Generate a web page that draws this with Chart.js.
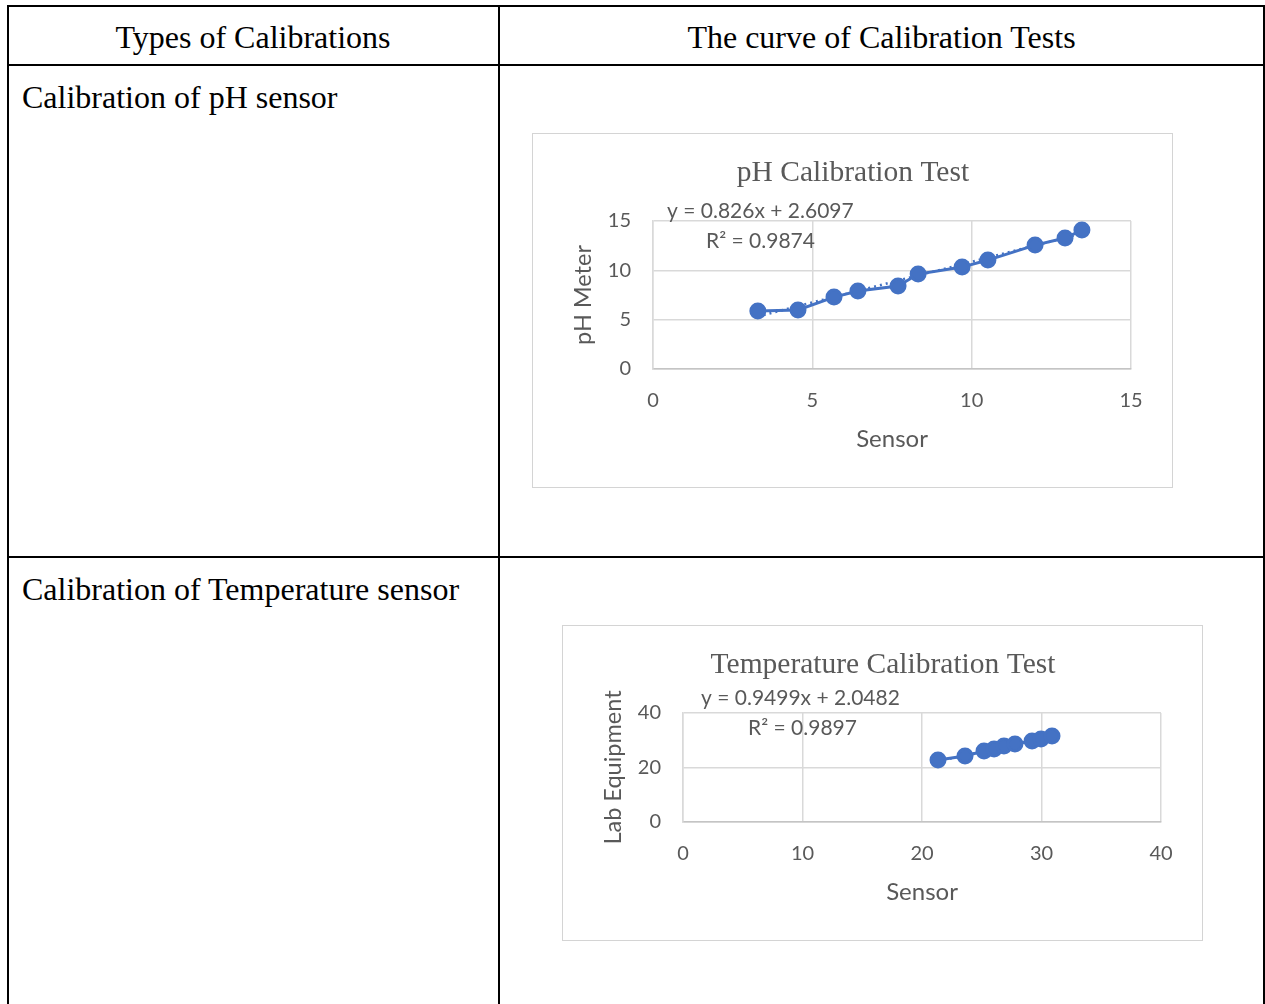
<!DOCTYPE html>
<html>
<head>
<meta charset="utf-8">
<script src="https://cdn.jsdelivr.net/npm/chart.js@4.4.1/dist/chart.umd.min.js"></script>
<style>
  html, body { margin: 0; padding: 0; background: #ffffff; }
  body { width: 1265px; height: 1004px; position: relative; overflow: hidden; }
  .hl, .vl { position: absolute; background: #000; }
  .cell { position: absolute; font-family: "Liberation Serif", "Times New Roman", serif; font-size: 32px; color: #000; white-space: nowrap; line-height: 1; }
  .box { position: absolute; border: 1.5px solid #d4d4d4; box-sizing: border-box; background: #fff; }
  .box canvas { position: absolute; left: 0; top: 0; }
</style>
</head>
<body>
<!-- table lines -->
<div class="hl" style="left:7px; top:5px; width:1258px; height:1.5px;"></div>
<div class="hl" style="left:7px; top:64px; width:1258px; height:1.5px;"></div>
<div class="hl" style="left:7px; top:556px; width:1258px; height:1.5px;"></div>
<div class="vl" style="left:7px; top:5px; width:1.5px; height:1000px;"></div>
<div class="vl" style="left:498px; top:5px; width:1.5px; height:1000px;"></div>
<div class="vl" style="left:1263px; top:5px; width:1.5px; height:1000px;"></div>

<div class="cell" style="left:7px; width:492px; top:21px; text-align:center;">Types of Calibrations</div>
<div class="cell" style="left:499px; width:765px; top:21px; text-align:center;">The curve of Calibration Tests</div>
<div class="cell" style="left:22px; top:81px;">Calibration of pH sensor</div>
<div class="cell" style="left:22px; top:573px;">Calibration of Temperature sensor</div>

<div class="box" style="left:532px; top:133px; width:641px; height:355px;"><canvas id="c1" width="640" height="354"></canvas></div>
<div class="box" style="left:562px; top:625px; width:641px; height:316px;"><canvas id="c2" width="640" height="315"></canvas></div>

<script>
// ---- data ----
const phSensor = [3.29, 4.55, 5.68, 6.43, 7.69, 8.32, 9.70, 10.51, 11.99, 12.93, 13.46];
const phMeter  = [5.88, 5.98, 7.29, 7.90, 8.41, 9.62, 10.33, 11.04, 12.56, 13.27, 14.08];
const phTrend  = [0.826, 2.6097];      // slope, intercept
const phLabels = ["y = 0.826x + 2.6097", "R\u00B2 = 0.9874"];
const phXTicks = [0, 5, 10, 15];
const phYTicks = [0, 5, 10, 15];

const tSensor = [21.34, 23.60, 25.19, 26.03, 26.86, 27.78, 29.21, 29.96, 30.88];
const tLab    = [22.75, 24.20, 26.05, 26.80, 27.90, 28.60, 29.70, 30.50, 31.60];
const tTrend  = [0.9499, 2.0482];
const tLabels = ["y = 0.9499x + 2.0482", "R\u00B2 = 0.9897"];
const tXTicks = [0, 10, 20, 30, 40];
const tYTicks = [0, 20, 40];

// ---- styling ----
const BLUE = '#4472C4';
const GRID = '#d9d9d9';
const TXT = '#595959';
const SANS = 'Lato, "Open Sans", sans-serif';

function makeChart(id, xs, ys, trend, labels, xTicks, yTicks, title, xTitle, yTitle, eqPos) {
  const pts = xs.map((x, i) => ({ x: x, y: ys[i] }));
  const xmin = Math.min(...xs), xmax = Math.max(...xs);
  const trendPts = [xmin, xmax].map(x => ({ x: x, y: trend[0] * x + trend[1] }));
  const overlay = {
    id: 'overlay',
    afterDraw(chart) {
      const ctx = chart.ctx;
      ctx.save();
      ctx.fillStyle = TXT;
      ctx.textBaseline = 'middle';
      ctx.textAlign = 'center';
      ctx.font = '29.5px "Liberation Serif", "Times New Roman", serif';
      ctx.fillText(title, chart.width / 2, 39);
      ctx.textAlign = 'left';
      ctx.font = '21px ' + SANS;
      ctx.fillText(labels[0], eqPos[0], eqPos[1]);
      ctx.fillText(labels[1], eqPos[2], eqPos[3]);
      ctx.restore();
    }
  };
  return new Chart(document.getElementById(id), {
    type: 'scatter',
    data: {
      datasets: [
        { data: trendPts, showLine: true, borderColor: BLUE, borderWidth: 2.5, borderDash: [2, 4], pointRadius: 0, order: 2 },
        { data: pts, showLine: true, borderColor: BLUE, backgroundColor: BLUE, borderWidth: 3, pointRadius: 7, pointHoverRadius: 7, order: 1 }
      ]
    },
    options: {
      responsive: false,
      animation: false,
      events: [],
      layout: { padding: { left: 36, right: 42, top: 87, bottom: 34 } },
      plugins: { legend: { display: false }, tooltip: { enabled: false }, title: { display: false } },
      scales: {
        x: {
          type: 'linear', min: xTicks[0], max: xTicks[xTicks.length - 1],
          afterBuildTicks: s => { s.ticks = xTicks.map(v => ({ value: v })); },
          afterFit: s => { s.height = 85; },
          ticks: { padding: 20, color: TXT, font: { family: SANS, size: 20 } },
          grid: { color: GRID, lineWidth: 1.5, drawTicks: false },
          border: { color: '#c4c4c4', width: 1.5 },
          title: { display: true, text: xTitle, color: TXT, font: { family: SANS, size: 24 }, padding: 0 }
        },
        y: {
          type: 'linear', min: yTicks[0], max: yTicks[yTicks.length - 1],
          afterBuildTicks: s => { s.ticks = yTicks.map(v => ({ value: v })); },
          afterFit: s => { s.width = 84; },
          ticks: { padding: 22, color: TXT, font: { family: SANS, size: 20 } },
          grid: { color: GRID, lineWidth: 1.5, drawTicks: false },
          border: { color: GRID, width: 1.5 },
          title: { display: true, text: yTitle, color: TXT, font: { family: SANS, size: 23.5 }, padding: 0 }
        }
      }
    },
    plugins: [overlay]
  });
}

makeChart('c1', phSensor, phMeter, phTrend, phLabels, phXTicks, phYTicks,
  'pH Calibration Test', 'Sensor', 'pH Meter', [134, 77, 173, 107]);
makeChart('c2', tSensor, tLab, tTrend, tLabels, tXTicks, tYTicks,
  'Temperature Calibration Test', 'Sensor', 'Lab Equipment', [138, 72, 185, 102]);
</script>
</body>
</html>
